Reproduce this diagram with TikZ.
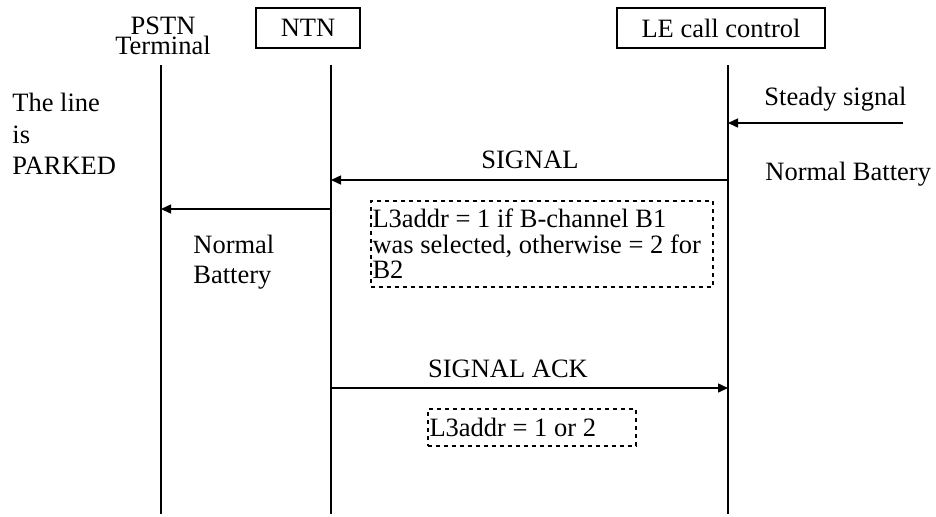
\documentclass[tikz,border=0pt]{standalone}
\usepackage{fontspec}
\setmainfont{Liberation Serif}
\usetikzlibrary{arrows.meta}
\begin{document}
\begin{tikzpicture}[x=0.5pt,y=-0.5pt,
  every node/.style={inner sep=0pt, font=\fontsize{13.25}{15.75}\selectfont},
  lifeline/.style={line width=1pt},
  msg/.style={line width=0.75pt, -{Triangle[length=5pt,width=4.5pt]}},
  entity/.style={draw, line width=1pt, minimum height=20pt},
  label/.style={anchor=base west},
  note/.style={draw, line width=1pt, dash pattern=on 1.75pt off 2.25pt,
    inner xsep=0.75pt, inner ysep=4pt, align=flush left, anchor=north west}
]
\useasboundingbox (0,0) rectangle (936,516);

% entities
\node[align=center, anchor=north, font=\fontsize{13.25}{10}\selectfont] (pstn) at (163,16.5) {PSTN\\Terminal};
\node[entity, minimum width=52pt] (ntn) at (308,28) {NTN};
\node[entity, minimum width=104pt] (le) at (721,28) {LE call control};

% lifelines
\coordinate (pstnTop) at (161,65);  \coordinate (pstnBot) at (161,514);
\coordinate (ntnTop) at (331,65);   \coordinate (ntnBot) at (331,514);
\coordinate (leTop) at (728,65);    \coordinate (leBot) at (728,514);
\draw[lifeline] (pstnTop) -- (pstnBot);
\draw[lifeline] (ntnTop) -- (ntnBot);
\draw[lifeline] (leTop) -- (leBot);

% message points
\coordinate (steadyIn) at (903,123);
\coordinate (leSteady) at (728,123);
\coordinate (leSig) at (728,180);
\coordinate (ntnSig) at (331,180);
\coordinate (ntnLine) at (331,209);
\coordinate (pstnLine) at (161,209);
\coordinate (ntnAck) at (331,388);
\coordinate (leAck) at (728,388);

\draw[msg] (steadyIn) -- (leSteady);
\draw[msg] (leSig) -- (ntnSig);
\draw[msg] (ntnLine) -- (pstnLine);
\draw[msg] (ntnAck) -- (leAck);

% labels
\node[align=left, anchor=north west, font=\fontsize{13.25}{15.75}\selectfont] (parked) at (12,93) {The line\\is\\PARKED};
\node[label] (steady) at (764,105) {Steady signal};
\node[label] (nbRight) at (765,180) {Normal Battery};
\node[anchor=base] (signal) at (530,168) {SIGNAL};
\node[align=left, anchor=north west, font=\fontsize{13.25}{15}\selectfont] (nbLeft) at (193,235) {Normal\\Battery};
\node[anchor=base] (ack) at (508,377) {SIGNAL ACK};

% notes
\node[note, text width=169.5pt, font=\fontsize{13.25}{12.75}\selectfont] (noteA) at (370,200)
  {L3addr = 1 if B-channel B1\\was selected, otherwise = 2 for\\B2};
\node[note, text width=102.5pt, inner ysep=4.5pt] (noteB) at (427,408) {L3addr = 1 or 2};
\end{tikzpicture}
\end{document}
